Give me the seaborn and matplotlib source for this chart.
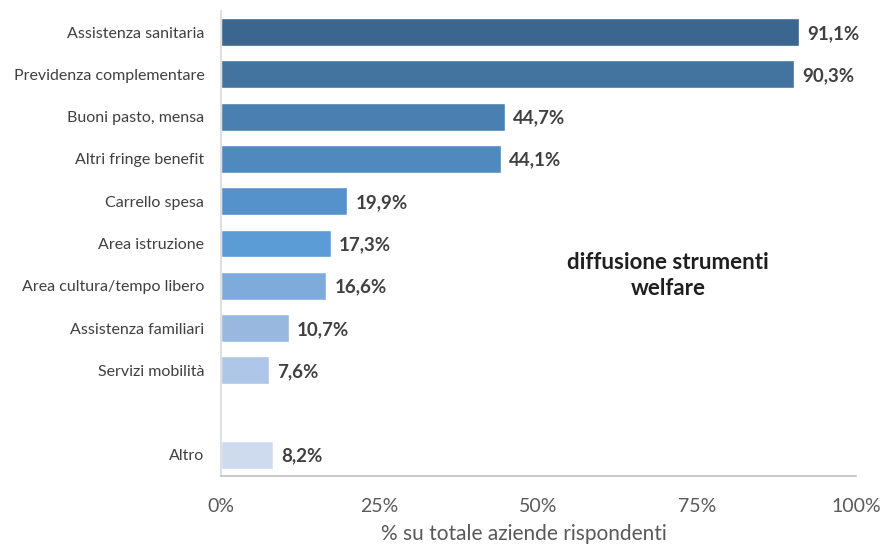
import numpy as np
import pandas as pd
import matplotlib.pyplot as plt
import seaborn as sns

# Data
categories = ["Assistenza sanitaria", "Previdenza complementare", "Buoni pasto, mensa",
              "Altri fringe benefit", "Carrello spesa", "Area istruzione",
              "Area cultura/tempo libero", "Assistenza familiari", "Servizi mobilità",
              " ", "Altro"]
values = [91.1, 90.3, 44.7, 44.1, 19.9, 17.3, 16.6, 10.7, 7.6, np.nan, 8.2]
labels = ["91,1%", "90,3%", "44,7%", "44,1%", "19,9%", "17,3%", "16,6%",
          "10,7%", "7,6%", "", "8,2%"]
colors = ["#3A6690", "#43739F", "#4A80B1", "#4F89BE", "#5592CC", "#5B9BD6",
          "#7EABDB", "#98B8E0", "#AEC6E7", "#FFFFFF", "#CEDBEF"]
xticks = [0, 25, 50, 75, 100]

df = pd.DataFrame({"cat": categories, "val": values})

sns.set_theme(style="white")
plt.rcParams['font.family'] = ['Lato', 'DejaVu Sans']

fig = plt.figure(figsize=(8.83, 5.47), dpi=100)
ax = fig.add_axes([0.2503, 0.1298, 0.7191, 0.8501])

sns.barplot(data=df, y="cat", x="val", hue="cat", palette=colors, legend=False,
            order=categories, width=0.66, ax=ax, saturation=1)

for i, (v, lab) in enumerate(zip(values, labels)):
    if not np.isnan(v):
        ax.text(v + 1.3, i + 0.03, lab, va="center", ha="left", fontsize=13.5,
                fontweight="bold", color="#404040")

ax.text(70.4, 5.75, "diffusione strumenti\nwelfare", ha="center", va="center",
        fontsize=16, fontweight="bold", color="#1F1F1F", linespacing=1.3)

ax.set_xlim(0, 100)
ax.set_ylim(10.5, -0.5)
ax.set_xticks(xticks)
ax.set_xticklabels([f"{t}%" for t in xticks], fontsize=14, color="#595959")
ax.tick_params(axis="x", pad=16, length=0)
ax.tick_params(axis="y", length=0, labelsize=11.5, labelcolor="#404040", pad=12)
ax.set_xlabel("% su totale aziende rispondenti", fontsize=15, color="#595959")
ax.xaxis.set_label_coords(0.477, -0.103)
ax.set_ylabel("")

for s in ["top", "right"]:
    ax.spines[s].set_visible(False)
ax.spines["left"].set_color("#D9D9D9")
ax.spines["bottom"].set_color("#BFBFBF")
ax.spines["left"].set_linewidth(1.2)
ax.spines["bottom"].set_linewidth(1.2)

fig.savefig("out.png", dpi=100)
